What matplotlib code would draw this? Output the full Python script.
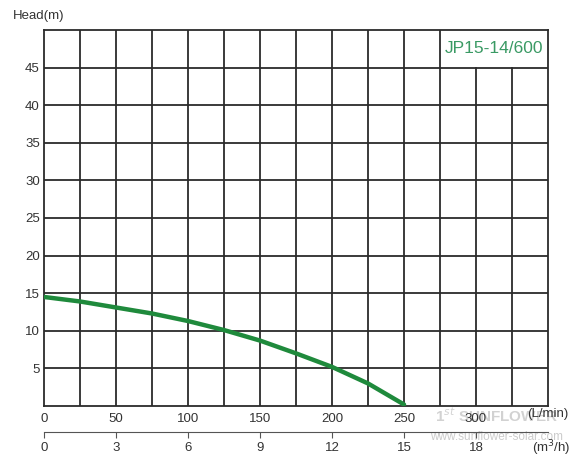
import matplotlib.pyplot as plt
import numpy as np

# pump curve JP15-14/600 (flow L/min, head m)
flow = [0, 25, 50, 75, 100, 125, 150, 175, 200, 225, 250]
head = [14.5, 13.9, 13.1, 12.3, 11.3, 10.1, 8.7, 7.0, 5.2, 3.0, 0.2]

flow_ticks = [0, 50, 100, 150, 200, 250, 300]
m3h_ticks = [0, 3, 6, 9, 12, 15, 18]
head_ticks = [5, 10, 15, 20, 25, 30, 35, 40, 45]
model = 'JP15-14/600'

plt.rcParams['font.family'] = ['Liberation Sans', 'DejaVu Sans']
txt = '#333333'
grid = '#2b2b2b'

fig = plt.figure(figsize=(5.81, 4.62), dpi=100)
ax = fig.add_axes([44 / 581, 56 / 462, 504 / 581, 376 / 462])
ax.set_xlim(0, 350)
ax.set_ylim(0, 50)

# grid: full lines, but two right verticals stop under the title cell
for x in np.arange(25, 350, 25):
    top = 45 if x > 275 else 50
    ax.plot([x, x], [0, top], color=grid, lw=1.3, zorder=1)
for y in np.arange(5, 50, 5):
    ax.axhline(y, color=grid, lw=1.3, zorder=1)
for s in ax.spines.values():
    s.set_color(grid)
    s.set_linewidth(1.3)

ax.plot(flow, head, color='#1f8a3c', lw=3.2, solid_capstyle='round', zorder=3)

ax.text(312.5, 47.5, model, color='#3a9a64', fontsize=12.5, ha='center', va='center')

ax.set_yticks(head_ticks)
ax.set_xticks(flow_ticks)
ax.tick_params(axis='both', length=0, labelsize=9.5, labelcolor=txt, pad=5)
ax.tick_params(axis='y', pad=3)
fig.text(13 / 581, 1 - 16 / 462, 'Head(m)', fontsize=9.5, color=txt,
         ha='left', va='center')
ax.text(350, -1.05, '(L/min)', fontsize=9.5, color=txt, ha='center', va='center')

sec = ax.secondary_xaxis(-0.069, functions=(lambda q: q * 0.06, lambda q: q / 0.06))
sec.set_xticks(m3h_ticks)
sec.spines['bottom'].set_color('#555555')
sec.tick_params(length=4, direction='out', color='#555555', labelsize=9.5,
                labelcolor=txt, pad=3)
ax.text(352, -5.6, '(m$^3$/h)', fontsize=9.5, color=txt, ha='center', va='center')

# watermark
ax.text(314, -1.3, '1$^{st}$ SUNFLOWER', fontsize=11, color='#d2d2d2',
        ha='center', va='center', fontweight='bold', clip_on=False, zorder=0)
ax.text(314, -4.1, 'www.sunflower-solar.com', fontsize=8.5, color='#cccccc',
        ha='center', va='center', clip_on=False, zorder=0)

fig.savefig('out.png', dpi=100)
